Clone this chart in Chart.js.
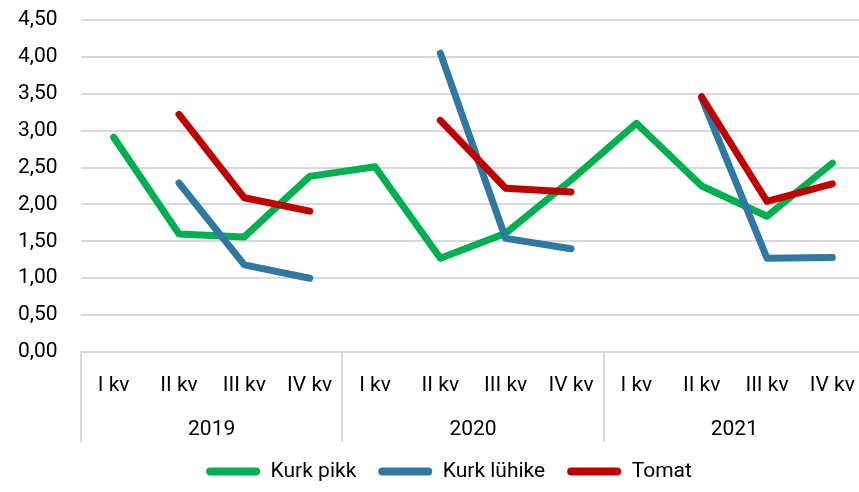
<!DOCTYPE html>
<html>
<head>
<meta charset="utf-8">
<script src="https://cdn.jsdelivr.net/npm/chart.js@4/dist/chart.umd.min.js"></script>
<style>
html,body{margin:0;padding:0;background:#fff;overflow:hidden;}
#wrap{position:relative;width:865px;height:492px;}
</style>
</head>
<body>
<div id="wrap"><canvas id="c"></canvas></div>
<script>
const quarters = ['I kv','II kv','III kv','IV kv','I kv','II kv','III kv','IV kv','I kv','II kv','III kv','IV kv'];
const years = ['2019','2020','2021'];
const kurkPikk = [2.91, 1.60, 1.56, 2.38, 2.51, 1.27, 1.61, 2.33, 3.10, 2.25, 1.84, 2.56];
const kurkLuhike = [null, 2.29, 1.18, 1.00, null, 4.05, 1.54, 1.40, null, 3.44, 1.27, 1.28];
const tomat = [null, 3.22, 2.09, 1.91, null, 3.14, 2.22, 2.17, null, 3.46, 2.04, 2.28];
const yTicks = [0, 0.5, 1, 1.5, 2, 2.5, 3, 3.5, 4, 4.5];

const FONT = {family: 'Roboto, "Liberation Sans", sans-serif', size: 21};
const GRID = '#d9d9d9';

function ds(label, data, color, order) {
  return {label, data, borderColor: color, backgroundColor: color, borderWidth: 7,
    pointRadius: 0, pointHoverRadius: 0, tension: 0, spanGaps: false,
    borderCapStyle: 'round', borderJoinStyle: 'round', order};
}

new Chart(document.getElementById('c'), {
  type: 'line',
  data: {
    labels: quarters,
    datasets: [
      ds('Kurk pikk', kurkPikk, '#00b050', 2),
      ds('Kurk lühike', kurkLuhike, '#2f78a2', 1),
      ds('Tomat', tomat, '#c00000', 0)
    ]
  },
  options: {
    responsive: true,
    maintainAspectRatio: false,
    animation: false,
    layout: {padding: {left: 33, right: 0, top: 20, bottom: 0}},
    scales: {
      y: {
        min: 0, max: 4.5,
        afterBuildTicks: (s) => { s.ticks = yTicks.map(v => ({value: v})); },
        afterFit: (s) => { s.width = 48; s.paddingTop = 0; s.paddingBottom = 0; },
        ticks: {font: FONT, color: '#000', mirror: true, padding: -63,
          callback: (v) => Number(v).toFixed(2).replace('.', ',')},
        grid: {color: GRID, lineWidth: 2, drawTicks: false},
        border: {display: false}
      },
      x: {
        type: 'category',
        offset: true, weight: 1,
        afterFit: (s) => { s.height = 41; },
        grid: {offset: true, drawOnChartArea: false, drawTicks: true, tickLength: 90,
          lineWidth: 2,
          color: (ctx) => (ctx.index % 4 === 0 ? GRID : 'rgba(0,0,0,0)')},
        border: {display: true, color: GRID, width: 2},
        ticks: {font: FONT, color: '#000', padding: -69, maxRotation: 0, autoSkip: false}
      },
      x2: {
        type: 'category',
        position: 'bottom', weight: 2,
        labels: years,
        offset: true,
        afterFit: (s) => { s.height = 46; },
        grid: {display: false, drawTicks: false},
        border: {display: false},
        ticks: {font: FONT, color: '#000', padding: 24, maxRotation: 0, autoSkip: false}
      }
    },
    plugins: {
      tooltip: {enabled: false},
      legend: {
        position: 'bottom',
        labels: {
          font: FONT, color: '#000', boxWidth: 54, boxHeight: 8, padding: 22,
          sort: (a, b) => a.datasetIndex - b.datasetIndex,
          generateLabels: (chart) => Chart.defaults.plugins.legend.labels.generateLabels(chart)
            .map(l => Object.assign(l, {lineWidth: 0, borderRadius: 4}))
        }
      }
    }
  }
});
</script>
</body>
</html>
